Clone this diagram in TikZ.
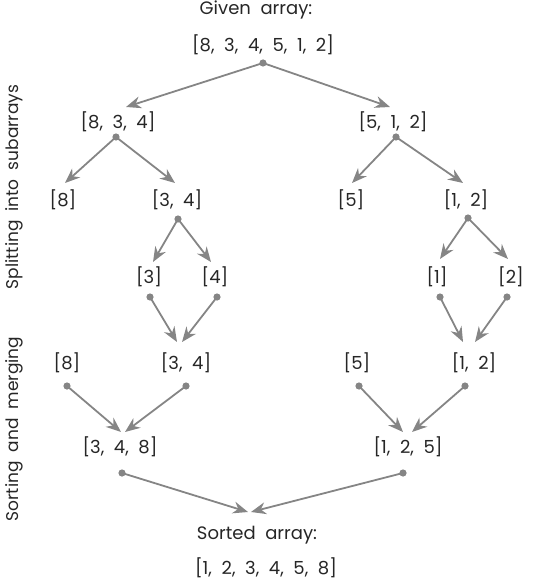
\documentclass[tikz,border=0pt]{standalone}
\usepackage{fontspec}
\setmainfont{Poppins}[WordSpace=2]
\usetikzlibrary{arrows.meta}
\colorlet{arrowcol}{black!48}
\colorlet{textcol}{black!85}
\tikzset{
  arr/.style={line width=1.8pt,arrowcol,-{Stealth[length=15pt,width=12pt]}},
  arraytext/.style={textcol,font=\fontsize{18}{21}\selectfont,inner sep=0pt},
  sidetext/.style={arraytext,font=\fontsize{17}{20}\selectfont,rotate=90},
  dot/.style={fill=arrowcol}}

\begin{document}
\begin{tikzpicture}[x=1pt,y=-1pt]
  \useasboundingbox (0,0) rectangle (536,580);
  \def\r{3.6} % dot radius

  % LABELS
  \node[arraytext] (given)  at (256,10)  {Given array:};
  \node[arraytext] (sorted) at (257,535) {Sorted array:};
  \node[sidetext]  (split)  at (14,187)  {Splitting into subarrays};
  \node[sidetext]  (merge)  at (14,429)  {Sorting and merging};

  % SPLITTING
  \node[arraytext] (root) at (263,45)  {[8, 3, 4, 5, 1, 2]};
  \node[arraytext] (a834) at (118,122) {[8, 3, 4]};
  \node[arraytext] (a512) at (393,122) {[5, 1, 2]};
  \node[arraytext] (a8)   at (63,200)  {[8]};
  \node[arraytext] (a34)  at (177,200) {[3, 4]};
  \node[arraytext] (a5)   at (351,200) {[5]};
  \node[arraytext] (a12)  at (466,200) {[1, 2]};
  \node[arraytext] (a3)   at (149,277) {[3]};
  \node[arraytext] (a4)   at (215,277) {[4]};
  \node[arraytext] (a1)   at (437,277) {[1]};
  \node[arraytext] (a2)   at (511,277) {[2]};

  % MERGING
  \node[arraytext] (m8)   at (67,363)  {[8]};
  \node[arraytext] (m34)  at (186,363) {[3, 4]};
  \node[arraytext] (m5)   at (357,363) {[5]};
  \node[arraytext] (m12)  at (474,363) {[1, 2]};
  \node[arraytext] (m348) at (120,447) {[3, 4, 8]};
  \node[arraytext] (m125) at (408,447) {[1, 2, 5]};
  \node[arraytext] (res)  at (266,568) {[1, 2, 3, 4, 5, 8]};

  % DOTS (start of arrows)
  \coordinate (droot) at (263,63);
  \coordinate (d834)  at (116,137);
  \coordinate (d512)  at (396,137);
  \coordinate (d34)   at (178,219);
  \coordinate (d12)   at (468,218);
  \coordinate (d3)    at (150,297);
  \coordinate (d4)    at (217,297);
  \coordinate (d1)    at (440,297);
  \coordinate (d2)    at (507,297);
  \coordinate (e8)    at (67,386);
  \coordinate (e34)   at (186,386);
  \coordinate (e5)    at (359,386);
  \coordinate (e12)   at (465,386);
  \coordinate (e348)  at (122,473);
  \coordinate (e125)  at (403,473);

  % TIPS (end of arrows)
  \coordinate (t834) at (126,107);
  \coordinate (t512) at (390,107);
  \coordinate (t8)   at (65,183);
  \coordinate (t34)  at (175,183);
  \coordinate (t5)   at (352,183);
  \coordinate (t12)  at (463,183);
  \coordinate (t3)   at (153,262);
  \coordinate (t4)   at (211,262);
  \coordinate (t1)   at (440,259);
  \coordinate (t2)   at (508,259);
  \coordinate (tl34) at (177,342);
  \coordinate (tr34) at (182,342);
  \coordinate (tl12) at (463,342);
  \coordinate (tr12) at (475,342);
  \coordinate (tl348) at (121,432);
  \coordinate (tr348) at (125,432);
  \coordinate (tl125) at (403,432);
  \coordinate (tr125) at (412,432);
  \coordinate (tlres) at (248,512);
  \coordinate (trres) at (251,512);

  % ARROWS
  \foreach \s/\t in {droot/t834,droot/t512,d834/t8,d834/t34,d512/t5,d512/t12,
                     d34/t3,d34/t4,d12/t1,d12/t2,d3/tl34,d4/tr34,d1/tl12,d2/tr12,
                     e8/tl348,e34/tr348,e5/tl125,e12/tr125,e348/tlres,e125/trres}
    \draw[arr] (\s) -- (\t);
  \foreach \s in {droot,d834,d512,d34,d12,d3,d4,d1,d2,e8,e34,e5,e12,e348,e125}
    \fill[dot] (\s) circle (\r);

\end{tikzpicture}
\end{document}
